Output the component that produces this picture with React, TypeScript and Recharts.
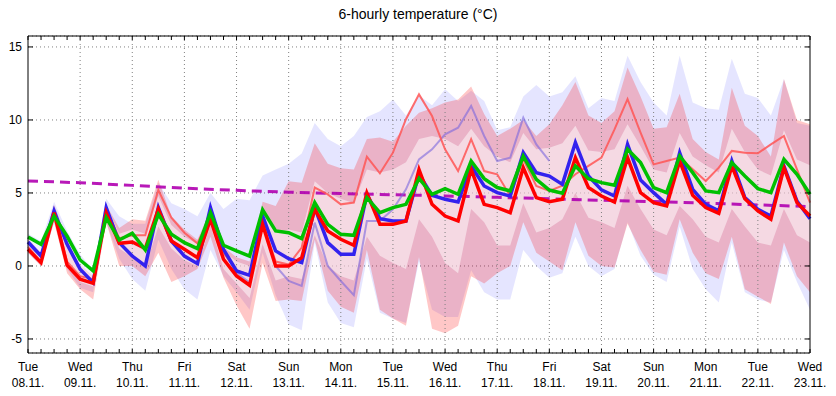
import React from 'react';
import { ComposedChart, Line, Area, XAxis, YAxis, CartesianGrid, ReferenceLine } from 'recharts';

// 6-hourly steps, 08.11. 00 UTC .. 23.11. 00 UTC (61 points)
const dayNames = ['Tue', 'Wed', 'Thu', 'Fri', 'Sat', 'Sun', 'Mon', 'Tue', 'Wed', 'Thu', 'Fri', 'Sat', 'Sun', 'Mon', 'Tue', 'Wed'];
const dayDates = ['08.11.', '09.11.', '10.11.', '11.11.', '12.11.', '13.11.', '14.11.', '15.11.', '16.11.', '17.11.', '18.11.', '19.11.', '20.11.', '21.11.', '22.11.', '23.11.'];

const blue = [
  1.64, 0.68, 3.77, 1.48, -0.23, -1.14, 4.0, 1.6, 0.68, 0.0,
  4.0, 1.71, 0.68, 0.16, 4.0, 1.14, -0.34, -0.64, 3.42, 1.03,
  0.5, 0.23, 4.0, 1.6, 0.8, 0.8, 4.9, 3.24, 3.08, 3.08,
  6.3, 4.84, 4.57, 4.38, 6.85, 5.48, 5.02, 4.79, 7.76, 6.39,
  6.16, 5.59, 8.45, 6.16, 5.21, 4.79, 8.33, 5.89, 5.02, 4.22,
  7.76, 5.25, 4.22, 3.77, 7.19, 4.68, 3.88, 3.42, 6.85, 4.45,
  3.24,
];
const red = [
  1.14, 0.23, 3.65, 0.05, -0.91, -1.19, 3.65, 1.55, 1.64, 1.19,
  3.9, 1.71, 1.14, 0.57, 3.2, 0.46, -0.68, -1.32, 2.85, 0.0,
  0.0, 0.57, 3.88, 2.4, 1.83, 1.42, 5.0, 2.85, 2.85, 3.08,
  6.6, 4.22, 3.42, 3.08, 6.62, 4.22, 4.0, 3.65, 6.73, 4.68,
  4.4, 4.57, 7.42, 5.37, 4.79, 4.38, 7.42, 5.02, 4.34, 4.11,
  7.19, 4.84, 4.0, 3.61, 6.85, 4.61, 3.77, 3.2, 6.73, 4.34,
  3.42,
];
const green = [
  1.99, 1.48, 3.42, 2.05, 0.41, -0.34, 3.31, 1.78, 2.24, 1.1,
  3.54, 2.17, 1.6, 1.19, 3.65, 1.42, 1.03, 0.68, 3.84, 2.4,
  2.28, 1.87, 4.34, 2.85, 2.17, 2.1, 4.68, 3.65, 4.0, 4.22,
  6.0, 4.91, 5.3, 4.91, 7.19, 5.98, 5.37, 5.14, 7.53, 5.94,
  5.2, 4.98, 6.85, 5.98, 5.71, 5.53, 7.99, 7.08, 5.37, 5.02,
  7.53, 6.39, 5.14, 5.02, 7.08, 6.16, 5.3, 5.02, 7.31, 6.28,
  4.91,
];
const redThin = [
  1.3, 0.3, 3.8, 0.3, -0.7, -0.9, 3.9, 1.9, 2.1, 2.1,
  5.2, 3.31, 2.28, 1.55, 3.4, 0.9, -0.3, -0.6, 3.0, 0.3,
  0.1, 1.26, 5.37, 4.9, 4.22, 4.34, 7.49, 6.35, 7.76, 10.05,
  11.75, 10.27, 7.99, 6.5, 8.68, 6.5, 6.28, 4.79, 7.3, 5.48,
  5.14, 5.5, 6.28, 6.85, 7.42, 9.36, 11.42, 9.13, 6.96, 7.19,
  7.42, 6.62, 5.82, 6.73, 7.88, 7.76, 7.72, 8.33, 8.9, 6.62,
  4.34,
];
// ends at 19.11. 00 UTC
const blueThin = [
  1.6, 0.7, 3.8, 1.5, -0.2, -1.1, 4.0, 1.6, 0.7, 0.0,
  4.0, 1.7, 0.7, 0.2, 4.0, 1.0, -0.46, -1.14, 3.0, 0.0,
  -1.03, -1.37, 2.97, 0.0, -1.03, -2.0, 3.08, 3.08, 3.88, 5.25,
  7.3, 7.99, 9.02, 9.47, 10.96, 8.9, 7.19, 7.42, 10.16, 8.33,
  7.19,
];
// trend, one value per day
const trend = [5.82, 5.7, 5.52, 5.33, 5.18, 5.05, 4.96, 4.88, 4.8, 4.7, 4.6, 4.5, 4.41, 4.3, 4.18, 4.07];

const lavLo = [
  0.9, 0.0, 3.0, -0.2, -1.5, -1.8, 3.0, 0.5, -0.9, -1.7,
  1.8, -0.2, -1.6, -2.3, 1.1, -0.7, -1.8, -3.0, 0.9, -2.0,
  -4.0, -4.4, 1.6, -2.5, -3.9, -4.2, 0.5, -3.2, -3.6, -3.9,
  0.3, -3.0, -3.5, -3.5, -0.3, -1.8, -2.3, -2.3, 1.1, 0.0,
  -0.8, -0.5, 2.0, 0.0, -0.7, -0.2, 3.0, 0.7, -0.6, -1.1,
  2.7, -0.2, -1.6, -2.5, 1.6, -1.8, -2.3, -2.5, 1.1, -1.1,
  -3.0,
];
const lavHi = [
  2.2, 1.7, 4.4, 2.4, 0.8, -0.3, 4.6, 3.4, 2.9, 2.9,
  5.7, 4.3, 3.9, 3.4, 5.0, 3.9, 4.6, 4.5, 6.2, 6.6,
  7.0, 7.7, 9.8, 8.7, 8.2, 8.9, 10.2, 10.6, 11.4, 10.3,
  11.7, 11.0, 12.1, 11.3, 12.0, 11.3, 9.3, 9.5, 11.6, 12.4,
  11.6, 11.9, 13.0, 10.8, 11.5, 11.3, 14.4, 12.6, 11.2, 10.3,
  14.4, 11.2, 10.8, 10.7, 14.2, 11.8, 11.5, 10.3, 12.8, 9.8,
  9.6,
];
const salLo = [
  0.9, 0.0, 3.0, -0.5, -1.6, -2.3, 3.0, 0.0, 0.0, -0.7,
  0.9, -1.1, -0.7, -0.2, 2.0, -0.8, -2.7, -4.3, 0.2, -2.4,
  -2.3, -2.4, 1.8, -1.7, -2.8, -3.2, 1.1, -3.0, -3.6, -4.1,
  0.6, -4.3, -4.6, -4.1, -0.7, -1.2, -0.5, 0.0, 3.0, 0.9,
  0.3, -0.3, 3.0, 0.7, 0.0, -0.1, 2.9, 1.1, -0.4, -0.6,
  3.2, 0.9, -0.5, -0.9, 2.0, -1.6, -2.1, -2.6, 1.6, -0.7,
  -1.8,
];
const salHi = [
  1.9, 0.9, 4.2, 1.8, 0.1, -0.7, 4.2, 2.6, 3.2, 3.1,
  5.9, 3.4, 2.5, 1.8, 3.8, 1.3, 0.6, 0.3, 4.4, 4.1,
  5.8, 5.7, 8.4, 7.0, 6.7, 6.6, 8.7, 8.8, 8.5, 9.6,
  10.5, 10.8, 11.2, 11.4, 12.3, 10.4, 8.9, 9.4, 10.0, 8.9,
  9.7, 11.0, 12.6, 10.3, 9.8, 10.6, 13.6, 11.6, 9.4, 9.5,
  11.8, 8.7, 7.8, 7.3, 12.2, 9.6, 8.9, 7.5, 12.8, 10.0,
  9.7,
];
const innLo = [
  1.0, 0.1, 3.3, 0.0, -1.1, -1.4, 3.3, 1.2, 0.6, -0.1,
  2.7, 1.2, 0.4, 0.0, 2.8, -0.2, -1.2, -2.2, 1.5, -1.0,
  -0.7, -0.9, 2.1, 0.0, -0.7, -1.0, 2.0, 0.7, 0.2, -0.2,
  3.2, 2.0, 0.2, -0.5, 3.9, 3.0, 1.4, 1.4, 4.3, 2.3,
  2.6, 3.2, 5.0, 3.3, 3.0, 2.6, 5.5, 3.9, 2.5, 2.1,
  4.1, 3.2, 2.0, 1.6, 3.9, 2.7, 1.6, 1.4, 3.9, 2.1,
  1.6,
];
const innHi = [
  2.1, 1.6, 3.9, 2.2, 0.6, -0.2, 4.1, 2.2, 2.5, 2.2,
  4.8, 2.8, 2.0, 1.5, 4.0, 1.0, 0.3, 0.0, 3.8, 2.3,
  2.5, 2.3, 5.8, 5.0, 4.6, 4.3, 6.6, 6.4, 6.6, 7.1,
  8.7, 8.9, 8.7, 8.2, 9.4, 8.2, 7.5, 7.1, 9.1, 8.0,
  8.1, 8.4, 9.6, 7.9, 7.8, 8.0, 9.7, 8.2, 6.6, 6.4,
  9.1, 7.5, 6.9, 6.4, 9.4, 7.8, 6.6, 6.2, 9.3, 7.3,
  6.9,
];

const yTicks = [-5, 0, 5, 10, 15];
const steps = blue.map((_, i) => i);
const dayTicks = dayNames.map((_, d) => d * 4);

const data = steps.map((i) => ({
  t: i,
  blue: blue[i],
  red: red[i],
  green: green[i],
  redThin: redThin[i],
  blueThin: i < blueThin.length ? blueThin[i] : null,
  trend: i % 4 === 0 ? trend[i / 4] : null,
  lav: [lavLo[i], lavHi[i]],
  sal: [salLo[i], salHi[i]],
  inn: [innLo[i], innHi[i]],
}));

const font = '"Liberation Sans", Arial, sans-serif';

const BottomTick = (props: any) => {
  const { x, y, payload } = props;
  const v = payload.value;
  return (
    <g>
      <line x1={x} y1={y} x2={x} y2={y - 4} stroke="#000" />
      {v % 4 === 0 && (
        <text x={x} y={y + 18} textAnchor="middle" fontSize={12} fontFamily={font} fill="#000">
          <tspan x={x}>{dayNames[v / 4]}</tspan>
          <tspan x={x} dy={16}>{dayDates[v / 4]}</tspan>
        </text>
      )}
    </g>
  );
};

const TopTick = (props: any) => {
  const { x, y } = props;
  return <line x1={x} y1={y} x2={x} y2={y + 4} stroke="#000" />;
};

const LeftTick = (props: any) => {
  const { x, y, payload } = props;
  return (
    <g>
      <line x1={x + 6} y1={y} x2={x + 11} y2={y} stroke="#000" />
      <text x={x} y={y + 4} textAnchor="end" fontSize={12} fontFamily={font} fill="#000">
        {payload.value}
      </text>
    </g>
  );
};

const RightTick = (props: any) => {
  const { x, y } = props;
  return <line x1={x - 5} y1={y} x2={x} y2={y} stroke="#000" />;
};

export default function App() {
  return (
    <div style={{ position: 'absolute', left: 0, top: 0, width: 836, height: 396, background: '#fff', fontFamily: font }}>
      <div style={{ position: 'absolute', left: 0, top: 6, width: 836, textAlign: 'center', fontSize: 14, color: '#000' }}>
        6-hourly temperature (°C)
      </div>
      <ComposedChart width={836} height={396} data={data} margin={{ top: 0, right: 0, bottom: 0, left: 0 }}>
        <CartesianGrid vertical={false} stroke="#808080" strokeDasharray="1 3" />
        {dayTicks.slice(1, -1).map((d) => (
          <ReferenceLine key={d} x={d} stroke="#808080" strokeDasharray="1 3" />
        ))}
        <XAxis
          dataKey="t"
          type="number"
          domain={[0, 60]}
          ticks={steps}
          interval={0}
          height={43}
          tickSize={0}
          tickMargin={0}
          tickLine={false}
          axisLine={{ stroke: '#000' }}
          tick={<BottomTick />}
        />
        <XAxis
          xAxisId="top"
          orientation="top"
          dataKey="t"
          type="number"
          domain={[0, 60]}
          ticks={steps}
          interval={0}
          height={36}
          tickSize={0}
          tickMargin={0}
          tickLine={false}
          axisLine={{ stroke: '#000' }}
          tick={<TopTick />}
        />
        <YAxis
          type="number"
          domain={[-5.96, 15.75]}
          ticks={yTicks}
          allowDataOverflow
          width={28}
          tickSize={0}
          tickMargin={6}
          tickLine={false}
          axisLine={{ stroke: '#000' }}
          tick={<LeftTick />}
        />
        <YAxis
          yAxisId="r"
          orientation="right"
          type="number"
          domain={[-5.96, 15.75]}
          ticks={yTicks}
          allowDataOverflow
          width={26}
          tickSize={0}
          tickMargin={0}
          tickLine={false}
          axisLine={{ stroke: '#000' }}
          tick={<RightTick />}
        />
        <Area dataKey="lav" type="linear" stroke="none" fill="#0000ff" fillOpacity={0.1} dot={false} activeDot={false} isAnimationActive={false} />
        <Area dataKey="sal" type="linear" stroke="none" fill="#ff0000" fillOpacity={0.22} dot={false} activeDot={false} isAnimationActive={false} />
        <Area dataKey="inn" type="linear" stroke="none" fill="#ffffff" fillOpacity={0.5} dot={false} activeDot={false} isAnimationActive={false} />
        <Line dataKey="trend" type="linear" connectNulls stroke="#b000b0" strokeOpacity={0.9} strokeWidth={3} strokeDasharray="10 6" dot={false} activeDot={false} isAnimationActive={false} />
        <Line dataKey="blueThin" type="linear" stroke="#7a66dd" strokeOpacity={0.6} strokeWidth={2} dot={false} activeDot={false} isAnimationActive={false} />
        <Line dataKey="redThin" type="linear" stroke="#ff5555" strokeOpacity={0.85} strokeWidth={2} dot={false} activeDot={false} isAnimationActive={false} />
        <Line dataKey="blue" type="linear" stroke="#3322ee" strokeWidth={3.5} dot={false} activeDot={false} isAnimationActive={false} />
        <Line dataKey="red" type="linear" stroke="#ff0000" strokeWidth={3.5} dot={false} activeDot={false} isAnimationActive={false} />
        <Line dataKey="green" type="linear" stroke="#00c000" strokeWidth={3.5} dot={false} activeDot={false} isAnimationActive={false} />
      </ComposedChart>
    </div>
  );
}
